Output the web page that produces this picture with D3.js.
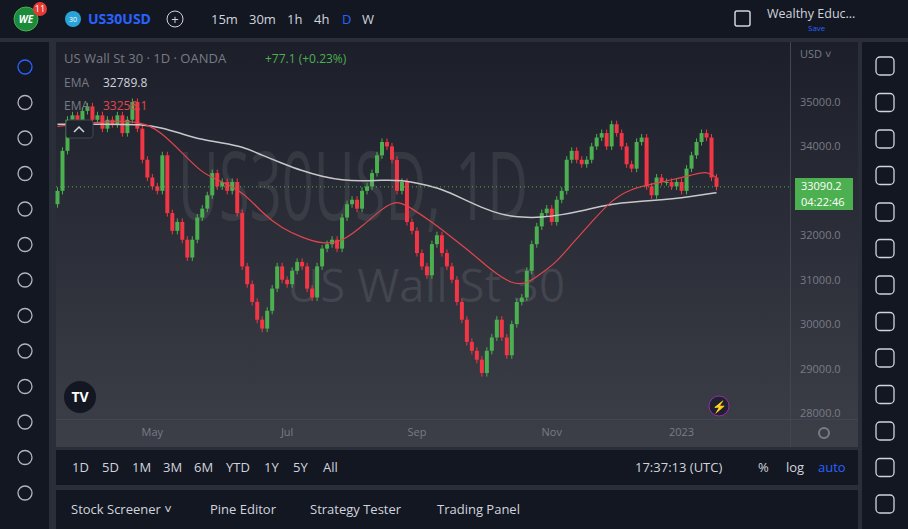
<!DOCTYPE html><html><head><meta charset="utf-8"><script src="https://cdn.jsdelivr.net/npm/d3@7"></script>
<style>body{margin:0;background:#131722;overflow:hidden}svg{display:block;font-family:"Open Sans",Roboto,sans-serif}</style></head><body>
<script>
const closes=[33000,33900,34600,34700,34500,34800,34900,34600,34700,34400,34600,34500,34700,34300,34600,35000,34400,33700,33300,33100,33000,33800,32500,32100,32300,31900,31500,31900,32400,32600,32900,33400,33100,33200,33000,33200,32500,31300,30900,30500,30100,29900,30300,30800,31300,31000,30900,31200,31400,31300,30800,30600,31300,31700,31800,31900,31700,32400,32700,32800,32600,33000,33100,33400,33800,34100,34000,33700,33000,33200,32300,32100,31600,31300,31100,31800,32000,31600,31300,31000,30500,30100,29600,29400,29200,28900,29400,29700,30100,29700,29300,30000,30500,30600,31200,31800,32200,32500,32600,32300,32800,33000,33700,33900,33700,33600,33700,34000,34200,34300,34000,34500,34300,34000,33600,33500,34100,34200,33100,32900,33300,33200,33200,33100,33200,33000,33500,33800,34100,34300,34200,33300,33090];
const ema50Idx=[0,16,21,25,29,32,37,41,45,49,53,57,61,65,68,71,75,79,83,87,91,94,97,100,103,107,111,115,119,123,127,130,132];
const ema50Val=[34450,34650,34300,33850,33400,33250,33000,32500,32150,31950,31800,31850,32200,32600,32800,32600,32300,31950,31600,31200,30900,30900,31150,31400,31800,32300,32800,33050,33150,33250,33350,33450,33300];
const ema200Idx=[0,9,17,21,25,29,33,37,41,45,49,53,57,61,65,69,73,77,81,85,89,93,97,101,105,109,113,117,121,125,129,132];
const ema200Val=[34500,34500,34500,34420,34280,34150,34080,34000,33800,33620,33450,33320,33240,33220,33240,33240,33150,33040,32830,32620,32460,32400,32400,32460,32550,32660,32730,32770,32800,32840,32910,32960];
const priceTicks=[28000,29000,30000,31000,32000,34000,35000];
const monthLabels=["May","Jul","Sep","Nov","2023"];
const monthIdx=[19,46,72,99,125];
const W=908,H=529;
const svg=d3.select("body").append("svg").attr("width",W).attr("height",H);
const defs=svg.append("defs");
const g=defs.append("linearGradient").attr("id","bg").attr("x1",0).attr("x2",0).attr("y1",0).attr("y2",1);
g.append("stop").attr("offset","0").attr("stop-color","#1c1f29");
g.append("stop").attr("offset","1").attr("stop-color","#3c3f48");
svg.append("rect").attr("width",W).attr("height",H).attr("fill","#2a2e39");
svg.append("rect").attr("width",W).attr("height",38).attr("fill","#131722");
svg.append("rect").attr("x",0).attr("y",42).attr("width",49).attr("height",H-42).attr("fill","#131722");
svg.append("rect").attr("x",862).attr("y",42).attr("width",46).attr("height",H-42).attr("fill","#131722");
svg.append("rect").attr("x",56).attr("y",42).attr("width",802).attr("height",405).attr("fill","url(#bg)");
svg.append("rect").attr("x",56).attr("y",450).attr("width",802).attr("height",35).attr("fill","#131722");
svg.append("rect").attr("x",56).attr("y",490).attr("width",802).attr("height",39).attr("fill","#131722");
svg.append("circle").attr("cx",26).attr("cy",19).attr("r",12).attr("fill","#1b8a3a").attr("stroke","#4caf50");
svg.append("text").attr("x",26).attr("y",23).attr("text-anchor","middle").attr("fill","#fff").attr("font-size",10).attr("font-weight","bold").attr("font-style","italic").text("WE");
svg.append("circle").attr("cx",40).attr("cy",9).attr("r",7).attr("fill","#e53935");
svg.append("text").attr("x",40).attr("y",12).attr("text-anchor","middle").attr("fill","#fff").attr("font-size",9).text("11");
svg.append("circle").attr("cx",73).attr("cy",19).attr("r",8).attr("fill","#29a3d8");
svg.append("text").attr("x",73).attr("y",22).attr("text-anchor","middle").attr("fill","#fff").attr("font-size",7).text("30");
svg.append("text").attr("x",88).attr("y",24).attr("fill","#2962ff").attr("font-size",14).attr("font-weight","bold").text("US30USD");
svg.append("circle").attr("cx",175).attr("cy",19).attr("r",8).attr("fill","none").attr("stroke","#d1d4dc");
svg.append("text").attr("x",175).attr("y",23.5).attr("text-anchor","middle").attr("fill","#d1d4dc").attr("font-size",13).text("+");
[["15m",211],["30m",249],["1h",287],["4h",314],["D",342],["W",362]].forEach(([t,x])=>svg.append("text").attr("x",x).attr("y",24).attr("fill",t=="D"?"#2962ff":"#d1d4dc").attr("font-size",13).text(t));
svg.append("text").attr("x",767).attr("y",18).attr("fill","#d1d4dc").attr("font-size",12.5).text("Wealthy Educ...");
svg.append("text").attr("x",808).attr("y",31).attr("fill","#2962ff").attr("font-size",8).text("Save");
svg.append("rect").attr("x",735).attr("y",11).attr("width",15).attr("height",15).attr("rx",2).attr("fill","none").attr("stroke","#d1d4dc").attr("stroke-width",1.5);
const x=d3.scaleBand().domain(d3.range(closes.length)).range([54.5,719.5]).padding(0.2);
const cx=i=>x(i)+x.bandwidth()/2;
const y=d3.scaleLinear().domain([28000,35000]).range([413,102]);
const plot=svg.append("g");
plot.append("text").attr("x",178).attr("y",220).attr("textLength",350).attr("lengthAdjust","spacingAndGlyphs").attr("fill","#ffffff").attr("fill-opacity",0.08).attr("font-size",96).text("US30USD, 1D");
plot.append("text").attr("x",287).attr("y",302).attr("textLength",278).attr("lengthAdjust","spacingAndGlyphs").attr("fill","#ffffff").attr("fill-opacity",0.09).attr("font-size",46).text("US Wall St 30");
closes.forEach((c,i)=>{
 const o=i?closes[i-1]:32700, up=c>=o, col=up?"#4caf50":"#f23645";
 const hi=Math.max(o,c)+80, lo=Math.min(o,c)-80;
 plot.append("line").attr("x1",cx(i)).attr("x2",cx(i)).attr("y1",y(hi)).attr("y2",y(lo)).attr("stroke",col);
 plot.append("rect").attr("x",x(i)).attr("width",x.bandwidth()).attr("y",y(Math.max(o,c))).attr("height",Math.max(1,Math.abs(y(o)-y(c)))).attr("fill",col);
});
const line=d3.line().curve(d3.curveBasis);
plot.append("path").attr("d",line(ema200Idx.map((d,k)=>[cx(d),y(ema200Val[k])]))).attr("fill","none").attr("stroke","#c8c8cc").attr("stroke-width",1.5);
plot.append("path").attr("d",line(ema50Idx.map((d,k)=>[cx(d),y(ema50Val[k])]))).attr("fill","none").attr("stroke","#e0454e").attr("stroke-width",1.2);
plot.append("line").attr("x1",56).attr("x2",790).attr("y1",y(33090)).attr("y2",y(33090)).attr("stroke","#4caf50").attr("stroke-dasharray","1,3");
svg.append("text").attr("x",64).attr("y",63).attr("fill","#787b86").attr("font-size",13).text("US Wall St 30 · 1D · OANDA");
svg.append("text").attr("x",265).attr("y",63).attr("fill","#4caf50").attr("font-size",12).text("+77.1 (+0.23%)");
svg.append("text").attr("x",64).attr("y",87).attr("fill","#787b86").attr("font-size",12).text("EMA");
svg.append("text").attr("x",103).attr("y",87).attr("fill","#d1d4dc").attr("font-size",12).text("32789.8");
svg.append("text").attr("x",64).attr("y",110).attr("fill","#787b86").attr("font-size",12).text("EMA");
svg.append("text").attr("x",103).attr("y",110).attr("fill","#e0454e").attr("font-size",12).text("33256.1");
svg.append("rect").attr("x",66).attr("y",120).attr("width",27).attr("height",18).attr("rx",3).attr("fill","#1e222d").attr("stroke","#434651");
svg.append("path").attr("d","M74,132 L79,127 L84,132").attr("fill","none").attr("stroke","#d1d4dc").attr("stroke-width",1.5);
svg.append("line").attr("x1",790.5).attr("x2",790.5).attr("y1",42).attr("y2",447).attr("stroke","#434651");
svg.append("line").attr("x1",56).attr("x2",858).attr("y1",419.5).attr("y2",419.5).attr("stroke","#434651");
const pa=svg.append("g").attr("transform","translate(790,0)").call(d3.axisRight(y).tickValues(priceTicks).tickFormat(d3.format(".1f")).tickSize(0).tickPadding(10));
pa.select(".domain").remove();pa.selectAll("text").attr("fill","#787b86").attr("font-size",11).attr("font-family","Open Sans");
svg.append("text").attr("x",800).attr("y",58).attr("fill","#787b86").attr("font-size",11).text("USD ˅");
svg.append("rect").attr("x",795).attr("y",178).attr("width",58).attr("height",32).attr("fill","#4caf50");
svg.append("text").attr("x",801).attr("y",190).attr("fill","#fff").attr("font-size",11).text("33090.2");
svg.append("text").attr("x",801).attr("y",206).attr("fill","#fff").attr("font-size",11).text("04:22:46");
const da=svg.append("g").attr("transform","translate(0,420)").call(d3.axisBottom(x).tickValues(monthIdx).tickFormat((d,k)=>monthLabels[k]).tickSize(0).tickPadding(8));
da.select(".domain").remove();da.selectAll("text").attr("fill","#787b86").attr("font-size",11).attr("font-family","Open Sans");
svg.append("circle").attr("cx",824).attr("cy",433).attr("r",5).attr("fill","none").attr("stroke","#787b86").attr("stroke-width",2);
svg.append("circle").attr("cx",80).attr("cy",397).attr("r",16).attr("fill","#131722");
svg.append("text").attr("x",80).attr("y",402).attr("text-anchor","middle").attr("fill","#fff").attr("font-size",14).attr("font-weight","bold").text("TV");
svg.append("circle").attr("cx",719).attr("cy",406).attr("r",10).attr("fill","#1e222d").attr("stroke","#9c27b0");
svg.append("text").attr("x",719).attr("y",411).attr("text-anchor","middle").attr("fill","#ba68c8").attr("font-size",12).text("⚡");
[["1D",72],["5D",102],["1M",132],["3M",163],["6M",194],["YTD",226],["1Y",264],["5Y",293],["All",323]].forEach(([t,xx])=>svg.append("text").attr("x",xx).attr("y",472).attr("fill","#d1d4dc").attr("font-size",13).text(t));
svg.append("text").attr("x",635).attr("y",472).attr("fill","#d1d4dc").attr("font-size",13).text("17:37:13 (UTC)");
svg.append("text").attr("x",758).attr("y",472).attr("fill","#d1d4dc").attr("font-size",13).text("%");
svg.append("text").attr("x",786).attr("y",472).attr("fill","#d1d4dc").attr("font-size",13).text("log");
svg.append("text").attr("x",818).attr("y",472).attr("fill","#2962ff").attr("font-size",13).text("auto");
[["Stock Screener ˅",71],["Pine Editor",210],["Strategy Tester",310],["Trading Panel",437]].forEach(([t,xx])=>svg.append("text").attr("x",xx).attr("y",514).attr("fill","#d1d4dc").attr("font-size",13).text(t));
d3.range(13).forEach(k=>{const yy=67+k*35.5;svg.append("circle").attr("cx",25).attr("cy",yy).attr("r",7).attr("fill","none").attr("stroke",k==0?"#2962ff":"#b2b5be").attr("stroke-width",1.3);});
d3.range(13).forEach(k=>{const yy=66+k*36.5;svg.append("rect").attr("x",876).attr("y",yy-9).attr("width",18).attr("height",18).attr("rx",4).attr("fill","none").attr("stroke","#d1d4dc").attr("stroke-width",1.3);});
</script></body></html>
